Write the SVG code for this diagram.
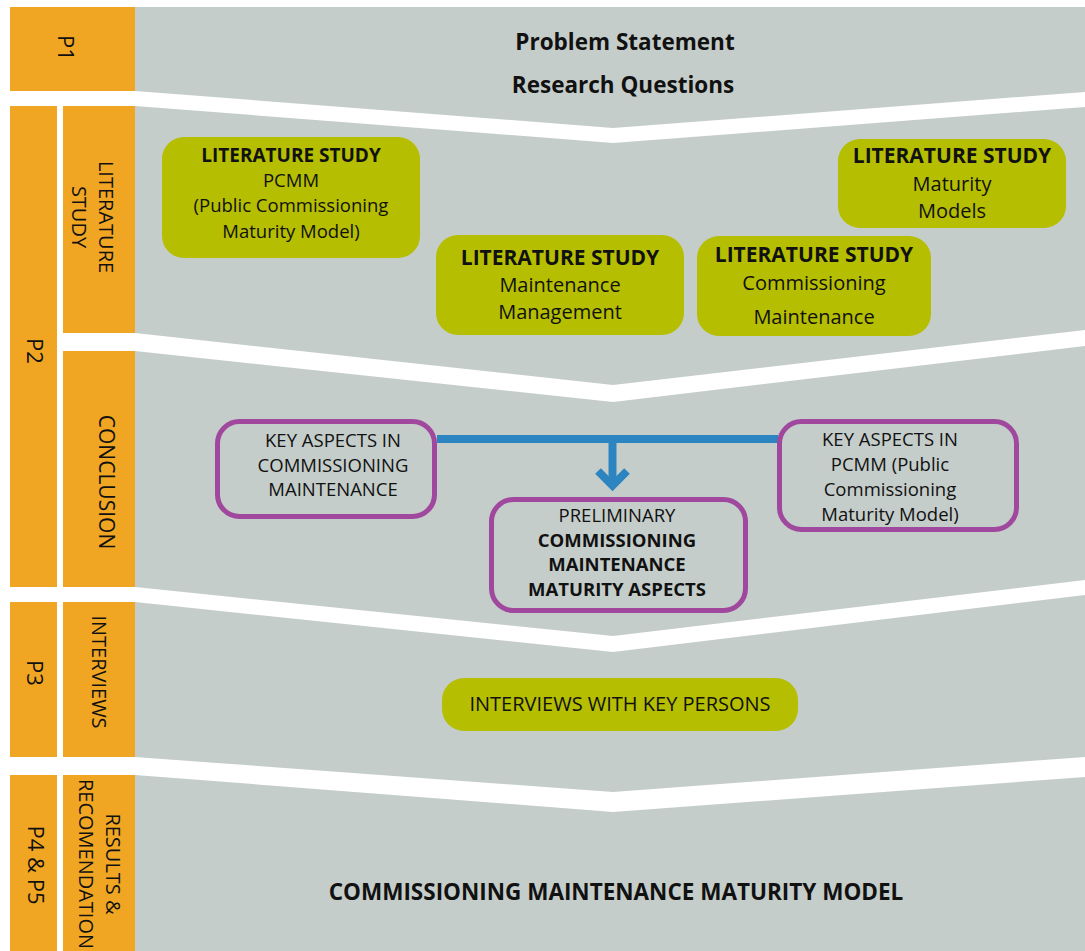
<svg xmlns="http://www.w3.org/2000/svg" width="1085" height="951" viewBox="0 0 1085 951">
<style>
.ph{fill:#f0a623}
.bg{fill:#c5cdca}
.gap{fill:#ffffff}
.gb{fill:#b5be00}
.pb{fill:none;stroke:#a0489e;stroke-width:5}
text{font-family:"Open Sans","Noto Sans",sans-serif;fill:#111111;text-anchor:middle}
.b{font-weight:bold}
.lab{font-size:22px}
.sub{font-size:20px}
.con{stroke:#2c84c0;stroke-width:8;fill:none}
</style>
<rect width="1085" height="951" fill="#ffffff"/>
<g id="background">
<rect class="bg" x="135" y="7" width="950" height="944"/>
<polygon class="gap" points="135,91 613,128 1085,92 1085,107 613,143 135,106"/>
<polygon class="gap" points="135,333 613,385 1085,330 1085,346 613,402 135,351"/>
<polygon class="gap" points="135,587 613,636 1085,580 1085,595 613,652 135,602"/>
<polygon class="gap" points="135,757 613,792 1085,757 1085,777 613,812 135,775"/>
</g>
<g id="phase-p1">
<rect class="ph" x="10" y="7" width="125" height="84"/>
<text class="lab" transform="translate(58,48) rotate(90)">P1</text>
</g>
<g id="phase-p2">
<rect class="ph" x="10" y="106" width="47" height="481"/>
<text class="lab" transform="translate(27,351) rotate(90)">P2</text>
</g>
<g id="stage-literature">
<rect class="ph" x="63" y="106" width="72" height="227"/>
<text class="sub" transform="translate(99,217) rotate(90)">LITERATURE<tspan x="0" dy="27">STUDY</tspan></text>
</g>
<g id="stage-conclusion">
<rect class="ph" x="63" y="351" width="72" height="236"/>
<text class="sub" style="font-size:21px" transform="translate(99,482) rotate(90)">CONCLUSION</text>
</g>
<g id="phase-p3">
<rect class="ph" x="10" y="602" width="47" height="155"/>
<text class="lab" transform="translate(27,673) rotate(90)">P3</text>
</g>
<g id="stage-interviews">
<rect class="ph" x="63" y="602" width="72" height="155"/>
<text class="sub" transform="translate(92,672) rotate(90)">INTERVIEWS</text>
</g>
<g id="phase-p4p5">
<rect class="ph" x="10" y="775" width="47" height="176"/>
<text class="lab" transform="translate(27.5,865) rotate(90)">P4 &amp; P5</text>
</g>
<g id="stage-results">
<rect class="ph" x="63" y="775" width="72" height="176"/>
<text class="sub" transform="translate(106,864) rotate(90)">RESULTS &amp;<tspan x="0" dy="27">RECOMENDATION</tspan></text>
</g>
<g id="problem">
<text class="b" style="font-size:22.5px" x="625" y="50">Problem Statement</text>
<text class="b" style="font-size:22.5px" x="623" y="93">Research Questions</text>
</g>
<g id="lit-pcmm">
<rect class="gb" x="162" y="137" width="258" height="121" rx="22"/>
<text class="b" style="font-size:19px" x="291" y="162">LITERATURE STUDY</text>
<text style="font-size:18.5px" x="291" y="187">PCMM</text>
<text style="font-size:18.5px" x="291" y="212">(Public Commissioning</text>
<text style="font-size:18.5px" x="291" y="238">Maturity Model)</text>
</g>
<g id="lit-maturity">
<rect class="gb" x="838" y="139" width="228" height="89" rx="22"/>
<text class="b" style="font-size:21px" x="952" y="163">LITERATURE STUDY</text>
<text style="font-size:20px" x="952" y="191">Maturity</text>
<text style="font-size:20px" x="952" y="218">Models</text>
</g>
<g id="lit-maintenance">
<rect class="gb" x="436" y="235" width="248" height="100" rx="22"/>
<text class="b" style="font-size:21px" x="560" y="265">LITERATURE STUDY</text>
<text style="font-size:20px" x="560" y="292">Maintenance</text>
<text style="font-size:20px" x="560" y="319">Management</text>
</g>
<g id="lit-commissioning">
<rect class="gb" x="697" y="236" width="234" height="100" rx="22"/>
<text class="b" style="font-size:21px" x="814" y="262">LITERATURE STUDY</text>
<text style="font-size:20px" x="814" y="290">Commissioning</text>
<text style="font-size:20px" x="814" y="324">Maintenance</text>
</g>
<g id="connectors">
<line class="con" x1="437" y1="439" x2="778" y2="439"/>
<line class="con" x1="612.5" y1="439" x2="612.5" y2="485"/>
<polyline class="con" points="598,471 612.5,485.5 627,471"/>
</g>
<g id="key-commissioning">
<rect class="pb" x="217.5" y="421.5" width="217" height="95" rx="22"/>
<text style="font-size:18.5px" x="333" y="447">KEY ASPECTS IN</text>
<text style="font-size:18.5px" x="333" y="472">COMMISSIONING</text>
<text style="font-size:18.5px" x="333" y="496">MAINTENANCE</text>
</g>
<g id="key-pcmm">
<rect class="pb" x="779.5" y="421.5" width="237" height="108" rx="22"/>
<text style="font-size:18.5px" x="890" y="446">KEY ASPECTS IN</text>
<text style="font-size:18.5px" x="890" y="471">PCMM (Public</text>
<text style="font-size:18.5px" x="890" y="496">Commissioning</text>
<text style="font-size:18.5px" x="890" y="521">Maturity Model)</text>
</g>
<g id="preliminary">
<rect class="pb" x="491.5" y="499.5" width="254" height="111" rx="22"/>
<text style="font-size:18.5px" x="617" y="522">PRELIMINARY</text>
<text class="b" style="font-size:18.5px" x="617" y="547">COMMISSIONING</text>
<text class="b" style="font-size:18.5px" x="617" y="571">MAINTENANCE</text>
<text class="b" style="font-size:18.5px" x="617" y="596">MATURITY ASPECTS</text>
</g>
<g id="interviews">
<rect class="gb" x="442" y="678" width="356" height="53" rx="22"/>
<text style="font-size:20px" x="620" y="711">INTERVIEWS WITH KEY PERSONS</text>
</g>
<g id="result">
<text class="b" style="font-size:22.5px" x="616" y="900">COMMISSIONING MAINTENANCE MATURITY MODEL</text>
</g>
</svg>
